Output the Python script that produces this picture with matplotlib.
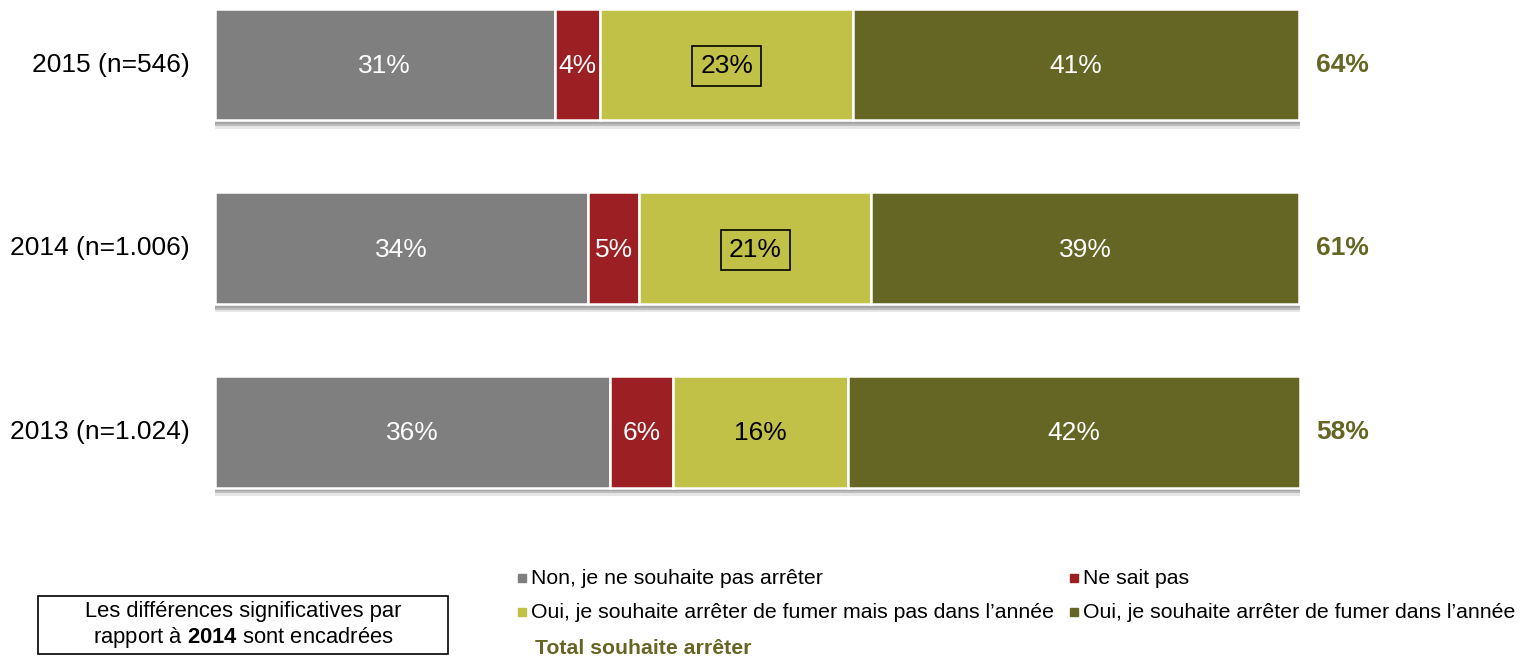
import numpy as np
import matplotlib.pyplot as plt
from matplotlib.patches import Rectangle

plt.rcParams['font.family'] = ['Liberation Sans', 'DejaVu Sans']
plt.rcParams['mathtext.fontset'] = 'custom'
plt.rcParams['mathtext.rm'] = 'Liberation Sans'
plt.rcParams['mathtext.bf'] = 'Liberation Sans:bold'

years = ['2015 (n=546)', '2014 (n=1.006)', '2013 (n=1.024)']
series_names = ['Non, je ne souhaite pas arrêter',
                'Ne sait pas',
                'Oui, je souhaite arrêter de fumer mais pas dans l\u2019année',
                'Oui, je souhaite arrêter de fumer dans l\u2019année']
non = [31.3, 34.4, 36.4]
nsp = [4.2, 4.7, 5.8]
oui_pas_annee = [23.3, 21.4, 16.1]
oui_annee = [41.1, 39.4, 41.7]
totals = [64, 61, 58]
# significant differences vs 2014 (framed values)
framed = [[False, False, True, False],
          [False, False, True, False],
          [False, False, False, False]]

colors = ['#7f7f7f', '#9c1f24', '#c2c147', '#666624']
text_colors = ['white', 'white', 'black', 'white']
olive = '#666624'

fig = plt.figure(figsize=(15.2, 6.59), dpi=100)
W, H = 1520, 659
# axes placed so that 0..100 spans the bar area
ax = fig.add_axes([215 / W, 159 / H, 1085 / W, 500 / H])
ax.set_xlim(0, 100)
ax.set_ylim(2.373, -0.3515)
ax.axis('off')

ypos = np.arange(len(years))
bar_h = 0.61
data = np.array([non, nsp, oui_pas_annee, oui_annee])
totw = data.sum(axis=0)

# soft shadow under the bars
ax.barh(ypos + 0.045, totw + 0.75, left=0, height=bar_h, color='#e6e6e6', zorder=1)
ax.barh(ypos + 0.032, totw + 0.5, left=0, height=bar_h, color='#bdbdbd', zorder=1)
ax.barh(ypos + 0.02, totw + 0.3, left=0, height=bar_h, color='#a6a6a6', zorder=1)

left = np.zeros(len(years))
for k in range(4):
    ax.barh(ypos, data[k], left=left, height=bar_h, color=colors[k],
            edgecolor='white', linewidth=1.8, zorder=2)
    for i in range(len(years)):
        cx = left[i] + data[k][i] / 2
        lab = f'{round(data[k][i])}%'
        kw = {}
        if framed[i][k]:
            kw['bbox'] = dict(boxstyle='square,pad=0.3', fc='none', ec='black', lw=1.2)
        ax.text(cx, ypos[i] + 0.01, lab, ha='center', va='center', fontsize=19,
                color=text_colors[k], zorder=3, **kw)
    left += data[k]

for i in range(len(years)):
    ax.text(101.5, ypos[i], f'{totals[i]}%', ha='left', va='center', fontsize=19,
            fontweight='bold', color=olive, clip_on=False)
    ax.text(-2.3, ypos[i], years[i], ha='right', va='center', fontsize=19,
            color='black', clip_on=False)

# legend, two columns
leg_x = [518, 1070]
leg_y = [578, 612]
order = [0, 2, 1, 3]
for n, k in enumerate(order):
    col, row = n // 2, n % 2
    x0, y0 = leg_x[col], leg_y[row]
    fig.patches.append(Rectangle((x0 / W, 1 - (y0 + 4) / H), 8 / W, 8 / H,
                                 transform=fig.transFigure, color=colors[k]))
    fig.text((x0 + 13) / W, 1 - y0 / H, series_names[k], fontsize=15.3,
             ha='left', va='center')
fig.text(535 / W, 1 - 648 / H, 'Total souhaite arrêter', fontsize=15.3,
         fontweight='bold', color=olive, ha='left', va='center')

# note box
fig.patches.append(Rectangle((38 / W, 1 - 654 / H), 410 / W, 58 / H,
                             transform=fig.transFigure, fill=False,
                             ec='black', lw=1.2))
fig.text(243 / W, 1 - 611 / H, 'Les différences significatives par',
         fontsize=15.8, ha='center', va='center')
fig.text(243 / W, 1 - 637 / H, r'rapport à $\mathbf{2014}$ sont encadrées',
         fontsize=15.8, ha='center', va='center')

fig.savefig('out.png', dpi=100)
